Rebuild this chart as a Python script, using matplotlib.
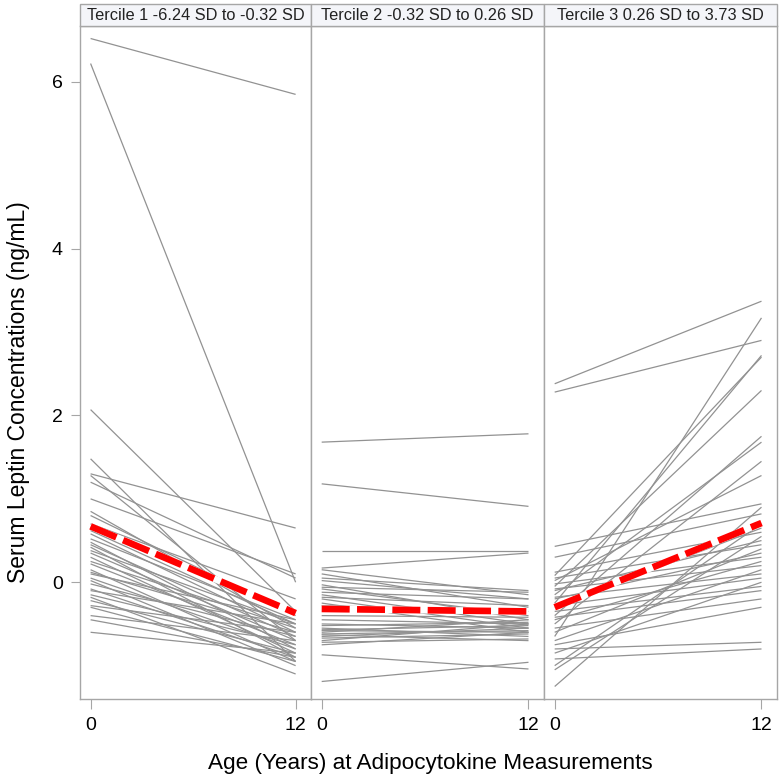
import matplotlib
matplotlib.use("Agg")
import matplotlib.pyplot as plt
from matplotlib.patches import Rectangle

plt.rcParams['font.family'] = ['Liberation Sans', 'DejaVu Sans']

ages = [0, 12]
panel_titles = ["Tercile 1 -6.24 SD to -0.32 SD",
                "Tercile 2 -0.32 SD to 0.26 SD",
                "Tercile 3 0.26 SD to 3.73 SD"]

t1_start = [6.52, 6.22, 2.07, 1.48, 1.30, 1.28, 1.20, 1.00, 0.85, 0.80, 0.70, 0.62, 0.58,
            0.52, 0.48, 0.45, 0.42, 0.38, 0.35, 0.30, 0.25, 0.22, 0.15, 0.12, 0.10, 0.05,
            0.02, -0.02, -0.08, -0.10, -0.15, -0.18, -0.22, -0.28, -0.30, -0.40, -0.45, -0.60]
t1_end = [5.85, 0.00, -0.35, -0.95, 0.65, -0.70, 0.05, 0.10, -0.55, -0.40, -0.20, -0.50, -0.60,
          -0.45, -0.80, -0.65, -0.90, -0.50, -0.70, -0.85, -0.55, -0.75, -0.95, -0.60, -0.45, -0.80,
          -1.00, -0.65, -0.90, -0.50, -0.75, -1.10, -0.85, -0.60, -0.95, -0.70, -0.90, -0.85]

t2_start = [1.68, 1.18, 0.38, 0.17, 0.15, 0.10, 0.05, 0.02, -0.03, -0.06, -0.08, -0.12, -0.15,
            -0.18, -0.20, -0.25, -0.28, -0.40, -0.45, -0.50, -0.52, -0.55, -0.57, -0.58, -0.60,
            -0.62, -0.63, -0.65, -0.67, -0.70, -0.72, -0.75, -0.87, -1.19]
t2_end = [1.78, 0.91, 0.38, 0.35, -0.15, -0.30, -0.10, -0.20, -0.45, -0.12, -0.40, -0.20, -0.50,
          -0.28, -0.55, -0.60, -0.35, -0.42, -0.50, -0.55, -0.48, -0.65, -0.52, -0.60, -0.45,
          -0.58, -0.70, -0.55, -0.62, -0.50, -0.68, -0.60, -1.04, -0.96]

t3_start = [2.38, 2.28, 0.43, 0.30, 0.12, 0.08, 0.05, 0.02, -0.02, -0.05, -0.08, -0.10, -0.15,
            -0.18, -0.20, -0.25, -0.28, -0.30, -0.35, -0.40, -0.42, -0.45, -0.50, -0.55, -0.60,
            -0.65, -0.70, -0.75, -0.80, -0.85, -0.92, -1.00, -1.05, -1.25]
t3_end = [3.37, 2.90, 0.94, 0.82, 0.60, 2.70, 0.45, 1.28, 0.30, 2.30, 0.20, 0.50, 1.68,
          0.10, 0.35, 2.72, 0.05, 0.65, -0.05, 1.75, -0.10, 0.25, 1.45, -0.20, 0.40,
          3.17, 0.15, -0.30, -0.72, 0.00, -0.80, 0.70, 0.55, 0.90]

mean_start = [0.67, -0.32, -0.30]
mean_end = [-0.37, -0.35, 0.71]

starts = [t1_start, t2_start, t3_start]
ends = [t1_end, t2_end, t3_end]

W, H = 780, 778
fig = plt.figure(figsize=(7.8, 7.78), dpi=100)

panel_x = [(80, 311), (311, 544), (544, 777)]
top_px, bot_px = 26, 699
frame_col = '#a6a6a6'

for i, (x0, x1) in enumerate(panel_x):
    ax = fig.add_axes([x0 / W, 1 - bot_px / H, (x1 - x0) / W, (bot_px - top_px) / H])
    for s, e in zip(starts[i], ends[i]):
        ax.plot(ages, [s, e], color='#929292', lw=0.9, solid_capstyle='butt')
    ax.plot(ages, [mean_start[i], mean_end[i]], color='white', lw=4.8, solid_capstyle='butt', zorder=5)
    ax.plot(ages, [mean_start[i], mean_end[i]], color='#ff0000', lw=4.8,
            dashes=(4.2, 1.1), dash_capstyle='butt', zorder=6)
    ax.set_xlim(-0.62, 12.9)
    ax.set_ylim(-1.40, 6.67)
    ax.set_xticks(ages)
    ax.set_xticklabels(['0', '12'])
    ax.tick_params(axis='x', length=7, width=0.8, color=frame_col, labelsize=14, pad=6)
    for sp in ax.spines.values():
        sp.set_color(frame_col)
        sp.set_linewidth(1.0)
    if i == 0:
        ax.set_yticks([0, 2, 4, 6])
        ax.tick_params(axis='y', length=6.5, width=0.8, color=frame_col, labelsize=14, pad=6)
    else:
        ax.set_yticks([])
    # header strip
    hx = x0 / W
    hy = 1 - top_px / H
    hh = 22 / H
    fig.patches.append(Rectangle((hx, hy), (x1 - x0) / W, hh, transform=fig.transFigure,
                                 facecolor='#f4f5f9', edgecolor=frame_col, lw=1.0, zorder=3))
    fig.text((x0 + x1) / 2 / W, hy + hh / 2, panel_titles[i], ha='center', va='center',
             fontsize=11.8, color='#222222', zorder=4)

fig.text(430 / W, 1 - 763 / H, 'Age (Years) at Adipocytokine Measurements', ha='center',
         va='center', fontsize=16.2)
fig.text(19 / W, 1 - 392 / H, 'Serum Leptin Concentrations (ng/mL)', ha='center', va='center',
         rotation=90, fontsize=16.5)

fig.savefig('out.png', dpi=100)
